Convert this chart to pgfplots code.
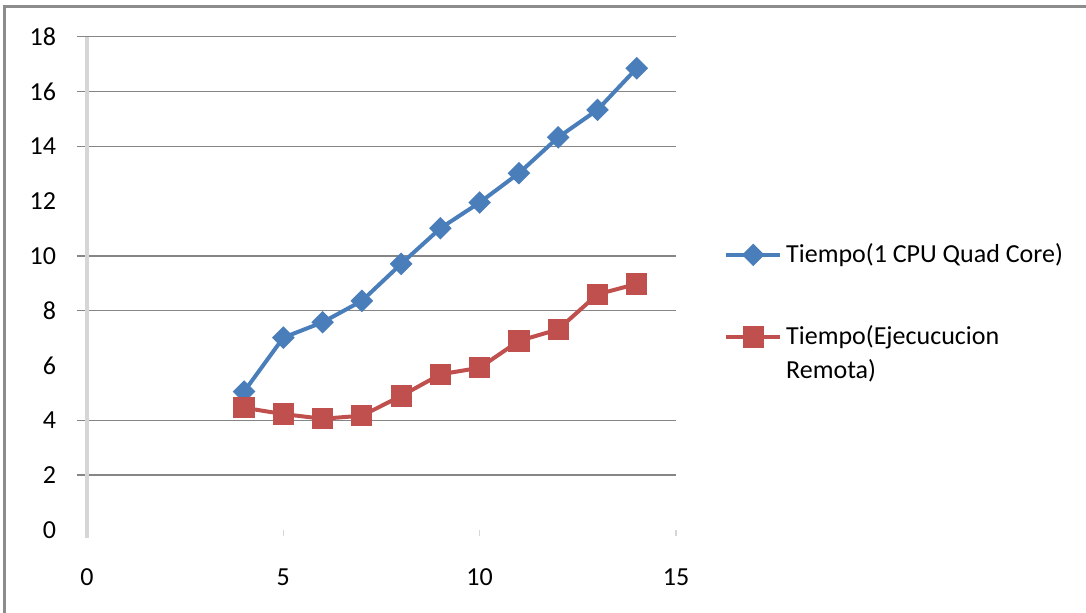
\documentclass[border=0pt]{standalone}
\usepackage{fontspec}
\setmainfont{Carlito}
\usepackage{pgfplots}
\pgfplotsset{compat=1.18}

\definecolor{seriesblue}{RGB}{74,126,187}
\definecolor{seriesred}{RGB}{192,80,77}
\definecolor{gridgray}{RGB}{134,134,134}
\definecolor{axisgray}{RGB}{214,214,214}
\definecolor{framegray}{RGB}{140,140,140}

\begin{document}
\begin{tikzpicture}[x=1pt,y=1pt]
\path[use as bounding box] (0,0) rectangle (543,306);
% outer chart frame
\draw[framegray, line width=1.3pt] (2.2,-1) -- (2.2,302.6) -- (544,302.6);
\begin{axis}[
  at={(43.5pt,41pt)}, anchor=south west,
  scale only axis, width=294.5pt, height=246.65pt,
  xmin=0, xmax=15, ymin=0, ymax=18,
  xtick={0,5,10,15}, ytick={0,2,...,18},
  clip=false,
  axis line style={draw=none},
  tick pos=left,
  tick align=outside,
  xtick style={axisgray, line width=0.8pt},
  major tick length=3pt,
  ytick style={draw=none},
  extra y ticks={2,4,8,10,14,16,18},
  extra y tick labels={},
  extra y tick style={grid=major, major grid style={gridgray, line width=0.7pt},
    ytick style={draw=gridgray, line width=0.7pt}, major tick length=5pt},
  font=\fontsize{13}{15.6}\selectfont,
  /pgf/number format/assume math mode=true,
  xticklabel style={yshift=-13pt},
  yticklabel style={xshift=-9pt},
  legend style={at={(1.071,0.597)}, anchor=north west, draw=none, fill=none,
    font=\fontsize{13}{17}\selectfont, cells={align=left}, row sep=26pt},
  legend cell align=left,
  legend image code/.code={\draw[#1, mark repeat=2, mark phase=2]
    plot coordinates {(0pt,0pt) (13.5pt,0pt) (27pt,0pt)};},
]
% vertical axis line
\draw[axisgray, line width=1.6pt] (axis cs:0,18) -- ([yshift=-4pt]axis cs:0,0);

\addplot[seriesblue, line width=2pt, mark=square*, mark size=3pt,
  mark options={rotate=45, solid}] coordinates {
  (4,5.05) (5,7.02) (6,7.58) (7,8.36) (8,9.71) (9,11.01)
  (10,11.95) (11,13.02) (12,14.33) (13,15.33) (14,16.85)};
\addlegendentry{Tiempo(1 CPU Quad Core)}

\addplot[seriesred, line width=2pt, mark=square*, mark size=4.3pt,
  mark options={solid}, legend image post style={yshift=8.5pt}] coordinates {
  (4,4.46) (5,4.23) (6,4.06) (7,4.17) (8,4.89) (9,5.68)
  (10,5.92) (11,6.90) (12,7.32) (13,8.60) (14,8.98)};
\addlegendentry{Tiempo(Ejecucucion\\Remota)}
\end{axis}
\end{tikzpicture}
\end{document}
